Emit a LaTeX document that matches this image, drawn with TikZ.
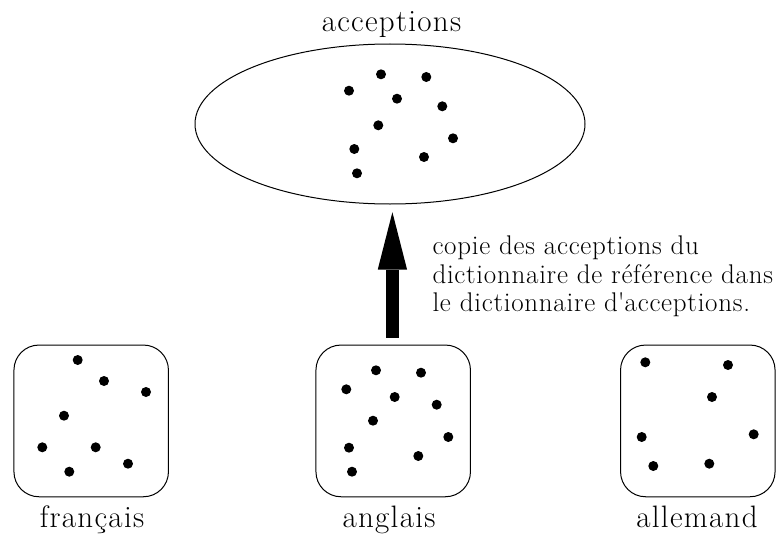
\documentclass[tikz,border=0pt]{standalone}
\usepackage{fontspec}
\setmainfont{Latin Modern Roman}
\usetikzlibrary{shapes.geometric,arrows.meta}
\begin{document}
\begin{tikzpicture}[x=1pt,y=-1pt,
  line width=1pt,
  dot/.style={fill=black},
  langbox/.style={draw, rounded corners=25pt, minimum width=154.5pt, minimum height=151.7pt, inner sep=0pt},
  lbl/.style={anchor=base, inner sep=0pt, font=\fontsize{31}{37}\selectfont\addfontfeatures{LetterSpace=4.2}},
  note/.style={anchor=base west, inner sep=0pt, font=\fontsize{27}{29}\selectfont\addfontfeatures{LetterSpace=2.7}},
  bigarrow/.style={line width=12.7pt, -{Triangle[length=57.3pt,width=29.3pt,line width=0pt]}}
]
\useasboundingbox (0,0) rectangle (779,535);

% ellipse of acceptions
\node[draw, ellipse, minimum width=390pt, minimum height=160pt, inner sep=0pt] (acc) at (390,124) {};
\node[lbl] (acctitle) at (391.5,31.7) {acceptions};
\foreach \x/\y in {381/74.3, 426.3/77, 349/90.7, 397/98.7, 442.3/106.3, 378.3/125.3, 453/138.3, 354.3/149, 424/157, 357/173.3}
  \fill[dot] (\x,\y) circle (5pt);

% boxes
\node[langbox] (fr) at (91.2,420.9) {};
\node[langbox] (en) at (393.2,420.9) {};
\node[langbox] (de) at (697.8,420.9) {};

\node[lbl] (frl) at (92,527.3) {français};
\node[lbl] (enl) at (389,527.3) {anglais};
\node[lbl] (del) at (697,527.3) {allemand};

\foreach \x/\y in {77.7/360, 104/381, 146/392, 64/415.7, 42.3/447.3, 95.7/447.3, 128/463.7, 69.3/471.7}
  \fill[dot] (\x,\y) circle (5pt);
\foreach \x/\y in {376/370.3, 421/372.7, 346.3/389.3, 394.7/397, 436.7/404.7, 373/420.7, 448.3/437, 349/447.7, 418.3/456, 352/471.7}
  \fill[dot] (\x,\y) circle (5pt);
\foreach \x/\y in {645.3/362.3, 728/365, 712/397, 641.7/437, 753.7/434.3, 653.3/466, 709.3/463.7}
  \fill[dot] (\x,\y) circle (5pt);

% arrow
\draw[bigarrow, shorten <=7pt, shorten >=7.7pt] ([xshift=-0.8pt]en.north) -- ([xshift=-0.8pt]en.north |- acc.south);

% annotation
\node[note] (n1) at (432,254) {copie des acceptions du};
\node[note] (n2) at (432,283.3) {dictionnaire de référence dans};
\node[note] (n3) at (432,311.7) {le dictionnaire d\textquotesingle acceptions.};
\end{tikzpicture}
\end{document}
